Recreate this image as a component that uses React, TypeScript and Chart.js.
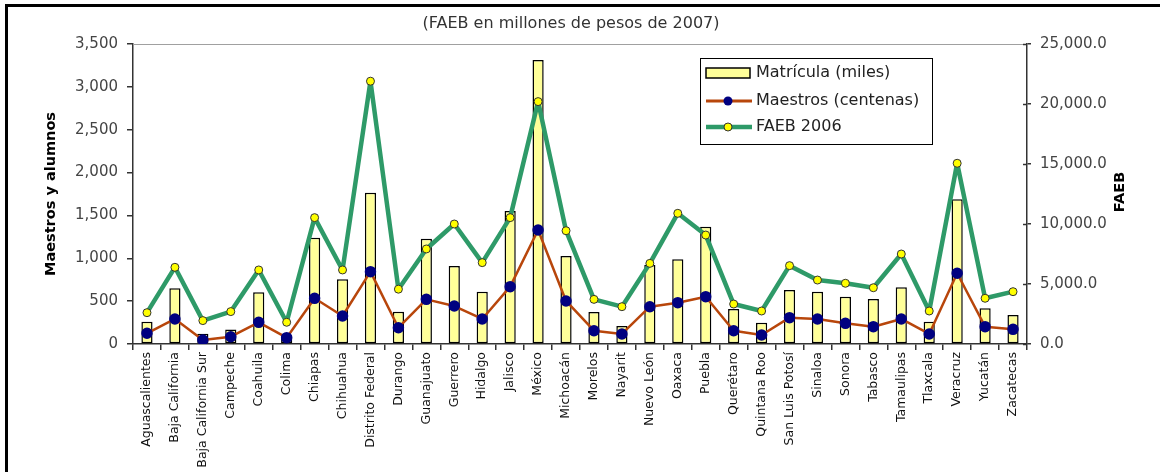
import React, { useEffect, useRef } from "react";
import { Chart, registerables } from "chart.js";

Chart.register(...registerables);

const estados = [
  "Aguascalientes", "Baja California", "Baja California Sur", "Campeche", "Coahuila",
  "Colima", "Chiapas", "Chihuahua", "Distrito Federal", "Durango", "Guanajuato",
  "Guerrero", "Hidalgo", "Jalisco", "México", "Michoacán", "Morelos", "Nayarit",
  "Nuevo León", "Oaxaca", "Puebla", "Querétaro", "Quintana Roo", "San Luis Potosí",
  "Sinaloa", "Sonora", "Tabasco", "Tamaulipas", "Tlaxcala", "Veracruz", "Yucatán", "Zacatecas",
];

const matricula = [
  260, 650, 120, 168, 603, 100, 1240, 755, 1765, 377, 1229, 910, 610, 1552, 3313, 1027,
  373, 210, 922, 988, 1369, 408, 249, 630, 610, 552, 525, 661, 260, 1688, 416, 338,
];

const maestros = [
  125, 292, 47, 85, 253, 74, 533, 327, 844, 190, 521, 443, 292, 669, 1330, 502,
  155, 117, 435, 482, 552, 155, 105, 307, 292, 241, 202, 292, 117, 825, 202, 171,
];

const faeb = [
  2610, 6390, 1950, 2700, 6170, 1810, 10530, 6170, 21900, 4570, 7920, 10000, 6780, 10530,
  20200, 9440, 3720, 3110, 6720, 10890, 9080, 3330, 2750, 6530, 5330, 5060, 4690, 7500,
  2750, 15060, 3810, 4360,
];

const leftTicks = [0, 500, 1000, 1500, 2000, 2500, 3000, 3500];
const rightTicks = [0, 5000, 10000, 15000, 20000, 25000];

const titleText = "(FAEB en millones de pesos de 2007)";
const leftTitle = "Maestros y alumnos";
const rightTitle = "FAEB";
const legendLabels = ["Matrícula (miles)", "Maestros (centenas)", "FAEB 2006"];

const FONT = "'DejaVu Sans', Arial, sans-serif";
const BAR_FILL = "#FFFF99";
const MAESTROS_LINE = "#B8460B";
const MAESTROS_DOT = "#000080";
const FAEB_LINE = "#2E9A68";
const FAEB_DOT = "#FFFF00";

const decor = {
  id: "decor",
  beforeDraw(chart: any) {
    const ctx = chart.ctx;
    ctx.save();
    ctx.fillStyle = "#ffffff";
    ctx.fillRect(0, 0, chart.width, chart.height);
    ctx.restore();
  },
  afterDraw(chart: any) {
    const ctx = chart.ctx;
    const area = chart.chartArea;
    ctx.save();
    // frame
    ctx.fillStyle = "#000";
    ctx.fillRect(5, 4, chart.width - 5, 3);
    ctx.fillRect(5, 4, 3, chart.height - 4);

    // top plot border
    ctx.strokeStyle = "#a0a0a0";
    ctx.lineWidth = 1;
    ctx.beginPath();
    ctx.moveTo(area.left, area.top + 0.5);
    ctx.lineTo(area.right, area.top + 0.5);
    ctx.stroke();

    // inward ticks on right axis
    const y2 = chart.scales.y2;
    ctx.strokeStyle = "#333";
    ctx.lineWidth = 1.5;
    rightTicks.forEach((v) => {
      const py = Math.round(y2.getPixelForValue(v)) + 0.5;
      ctx.beginPath();
      ctx.moveTo(area.right - 4, py);
      ctx.lineTo(area.right, py);
      ctx.stroke();
    });

    // title
    ctx.fillStyle = "#333";
    ctx.font = `16px ${FONT}`;
    ctx.textAlign = "center";
    ctx.textBaseline = "middle";
    ctx.fillText(titleText, 571, 24);

    // axis titles
    ctx.font = `bold 14.5px ${FONT}`;
    ctx.fillStyle = "#000";
    ctx.save();
    ctx.translate(51, (area.top + area.bottom) / 2);
    ctx.rotate(-Math.PI / 2);
    ctx.fillText(leftTitle, 0, 0);
    ctx.restore();
    ctx.save();
    ctx.translate(1120, 192);
    ctx.rotate(-Math.PI / 2);
    ctx.fillText(rightTitle, 0, 0);
    ctx.restore();

    // legend
    const lx = 700, ly = 58, lw = 232, lh = 86;
    ctx.fillStyle = "#fff";
    ctx.fillRect(lx, ly, lw, lh);
    ctx.strokeStyle = "#000";
    ctx.lineWidth = 1;
    ctx.strokeRect(lx + 0.5, ly + 0.5, lw, lh);

    // row 1
    ctx.fillStyle = BAR_FILL;
    ctx.fillRect(706, 68, 44, 10);
    ctx.lineWidth = 1.5;
    ctx.strokeStyle = "#000";
    ctx.strokeRect(706, 68, 44, 10);
    // row 2
    ctx.strokeStyle = MAESTROS_LINE;
    ctx.lineWidth = 3;
    ctx.beginPath();
    ctx.moveTo(706, 101);
    ctx.lineTo(752, 101);
    ctx.stroke();
    ctx.fillStyle = MAESTROS_DOT;
    ctx.beginPath();
    ctx.arc(728, 101, 4.5, 0, Math.PI * 2);
    ctx.fill();
    // row 3
    ctx.strokeStyle = FAEB_LINE;
    ctx.lineWidth = 4.5;
    ctx.beginPath();
    ctx.moveTo(706, 127);
    ctx.lineTo(752, 127);
    ctx.stroke();
    ctx.fillStyle = FAEB_DOT;
    ctx.strokeStyle = "#333";
    ctx.lineWidth = 1;
    ctx.beginPath();
    ctx.arc(728, 127, 4, 0, Math.PI * 2);
    ctx.fill();
    ctx.stroke();

    ctx.fillStyle = "#222";
    ctx.font = `16px ${FONT}`;
    ctx.textAlign = "left";
    ctx.textBaseline = "middle";
    ctx.fillText(legendLabels[0], 756, 73);
    ctx.fillText(legendLabels[1], 756, 101);
    ctx.fillText(legendLabels[2], 756, 127);
    ctx.restore();
  },
};

export default function App() {
  const ref = useRef<HTMLCanvasElement | null>(null);

  useEffect(() => {
    if (!ref.current) return;
    const chart = new Chart(ref.current, {
      type: "bar",
      data: {
        labels: estados,
        datasets: [
          {
            type: "line",
            label: legendLabels[2],
            data: faeb,
            yAxisID: "y2",
            borderColor: FAEB_LINE,
            borderWidth: 4.5,
            borderJoinStyle: "round",
            borderCapStyle: "round",
            pointBackgroundColor: FAEB_DOT,
            pointBorderColor: "#333",
            pointBorderWidth: 1,
            pointRadius: 4,
            tension: 0,
            order: 1,
          } as any,
          {
            type: "line",
            label: legendLabels[1],
            data: maestros,
            yAxisID: "y",
            borderColor: MAESTROS_LINE,
            borderWidth: 2.5,
            borderJoinStyle: "round",
            borderCapStyle: "round",
            pointBackgroundColor: MAESTROS_DOT,
            pointBorderColor: MAESTROS_DOT,
            pointRadius: 4.5,
            tension: 0,
            order: 2,
          } as any,
          {
            type: "bar",
            label: legendLabels[0],
            data: matricula,
            yAxisID: "y",
            backgroundColor: BAR_FILL,
            borderColor: "#000",
            borderWidth: 1.5,
            borderSkipped: false,
            barPercentage: 0.4,
            categoryPercentage: 1,
            order: 3,
          } as any,
        ],
      },
      options: {
        responsive: false,
        animation: false,
        layout: { padding: { top: 44, left: 0, right: 0, bottom: 0 } },
        font: { family: FONT },
        plugins: {
          legend: { display: false },
          title: { display: false },
          tooltip: { enabled: false },
        },
        scales: {
          x: {
            grid: {
              offset: true,
              drawOnChartArea: false,
              tickLength: 6,
              color: "#333",
              lineWidth: 1.5,
            },
            border: { color: "#333", width: 1.5 },
            ticks: {
              autoSkip: false,
              minRotation: 90,
              maxRotation: 90,
              padding: 2,
              color: "#111",
              font: { family: FONT, size: 12.5 },
            },
            afterFit: (s: any) => {
              s.height = 128;
            },
          },
          y: {
            position: "left",
            min: 0,
            max: 3500,
            afterBuildTicks: (s: any) => {
              s.ticks = leftTicks.map((v) => ({ value: v }));
            },
            grid: { drawOnChartArea: false, tickLength: 6, color: "#333", lineWidth: 1.5 },
            border: { color: "#333", width: 1.5 },
            ticks: {
              padding: 9,
              color: "#444",
              font: { family: FONT, size: 15 },
              callback: (v: any) => Number(v).toLocaleString("en-US"),
            },
            afterFit: (s: any) => {
              s.width = 133;
            },
          },
          y2: {
            position: "right",
            min: 0,
            max: 25000,
            afterBuildTicks: (s: any) => {
              s.ticks = rightTicks.map((v) => ({ value: v }));
            },
            grid: { drawOnChartArea: false, tickLength: 4, color: "#333", lineWidth: 1.5 },
            border: { color: "#333", width: 1.5 },
            ticks: {
              padding: 9,
              color: "#444",
              font: { family: FONT, size: 15 },
              callback: (v: any) =>
                Number(v).toLocaleString("en-US", { minimumFractionDigits: 1, maximumFractionDigits: 1 }),
            },
            afterFit: (s: any) => {
              s.width = 133;
            },
          },
        },
      } as any,
      plugins: [decor],
    });
    return () => chart.destroy();
  }, []);

  return (
    <div style={{ position: "absolute", left: 0, top: 0, width: 1160, height: 472, background: "#fff" }}>
      <canvas ref={ref} width={1160} height={472} style={{ display: "block", width: 1160, height: 472 }} />
    </div>
  );
}
